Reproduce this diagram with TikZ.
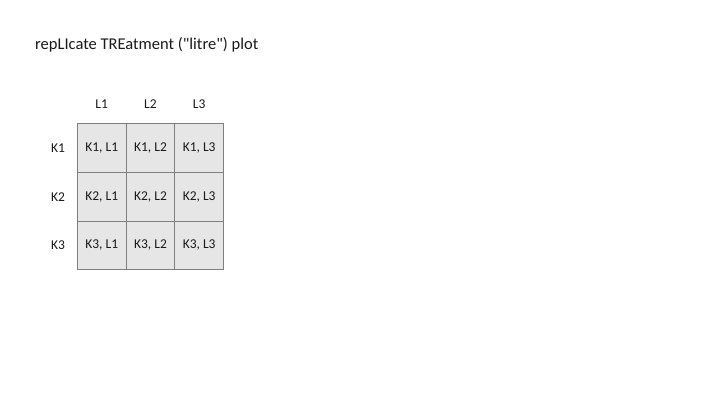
\documentclass[tikz,border=0pt]{standalone}
\usepackage{fontspec}
\setmainfont{Carlito}
\usetikzlibrary{calc}
\definecolor{cellfill}{HTML}{E7E6E6}
\definecolor{cellline}{HTML}{7F7F7F}
\definecolor{txt}{HTML}{1A1A1A}
\begin{document}
\begin{tikzpicture}[x=1pt,y=-1pt,
  cell/.style={draw=cellline,fill=cellfill,line width=0.8pt,minimum width=48.7pt,minimum height=48.7pt,inner sep=0pt,anchor=north west,font=\fontsize{13.5}{16}\selectfont,text=txt},
  lab/.style={font=\fontsize{13.5}{16}\selectfont,text=txt,inner sep=0pt}]
\useasboundingbox (0,0) rectangle (720,405);
\fill[white] (0,0) rectangle (720,405);
\node[anchor=west,inner sep=0pt,font=\fontsize{16.5}{20}\selectfont,text=txt] (title) at (35,45) {repLIcate TREatment (\textquotedbl litre\textquotedbl) plot};
\foreach \r in {1,2,3}{
  \foreach \c in {1,2,3}{
    \node[cell] (c\r\c) at ({77+(\c-1)*48.7},{123.3+(\r-1)*48.7}) {K\r, L\c};
  }
}
\foreach \c in {1,2,3}{
  \node[lab] (L\c) at ($(c1\c.north)+(0,-19)$) {L\c};
}
\foreach \r in {1,2,3}{
  \node[lab] (K\r) at ($(c\r1.west)+(-19,0)$) {K\r};
}
\end{tikzpicture}
\end{document}
